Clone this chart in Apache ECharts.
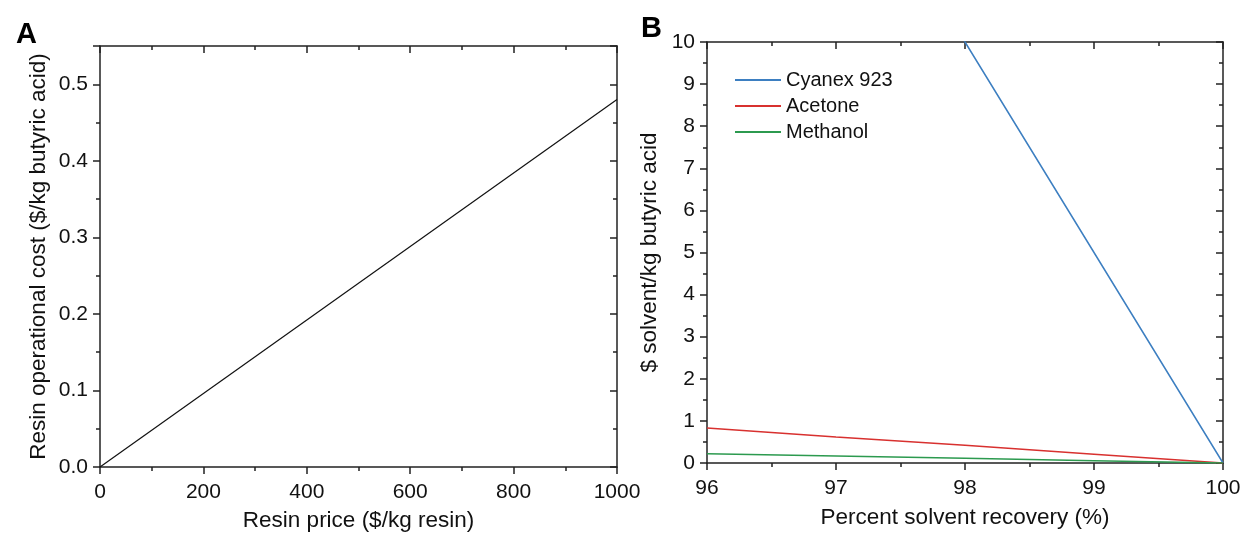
<!DOCTYPE html>
<html><head><meta charset="utf-8">
<script src="https://cdn.jsdelivr.net/npm/echarts@6/dist/echarts.min.js"></script>
<style>html,body{margin:0;padding:0;background:#fff}#c{width:1243px;height:533px}</style>
</head><body><div id="c"></div>
<script>
// Panel A data
const resinPrice = [0, 1000];
const resinCost = [0, 0.48];
// Panel B data
const recovery = [96, 97, 98, 99, 100];
const cyanex = [20, 15, 10, 5, 0];
const acetone = [0.83, 0.62, 0.42, 0.21, 0];
const methanol = [0.22, 0.165, 0.11, 0.055, 0];
const seriesNames = ['Cyanex 923', 'Acetone', 'Methanol'];
const colors = ['#3d7fc1', '#d8312f', '#2c9a4f'];

const FONT = 'Liberation Sans, Arial, sans-serif';
const AX = '#222';
function baseAxis(o) {
  return Object.assign({
    axisLine: {show: true, onZero: false, lineStyle: {color: AX, width: 1.5}},
    axisTick: {show: true, inside: false, length: 7, lineStyle: {color: AX, width: 1.5}},
    minorTick: {show: true, splitNumber: 2, length: 4, lineStyle: {color: AX, width: 1.5}},
    splitLine: {show: false},
    axisLabel: {color: '#111', fontFamily: FONT, fontSize: 21, margin: 15, formatter: v => String(v)},
    nameTextStyle: {color: '#111', fontFamily: FONT, fontSize: 22.5},
    nameLocation: 'middle'
  }, o);
}
function mirror(o) {
  return baseAxis(Object.assign({
    axisTick: {show: true, inside: true, length: 7, lineStyle: {color: AX, width: 1.5}},
    minorTick: {show: true, splitNumber: 2, length: 4, lineStyle: {color: AX, width: 1.5}},
    axisLabel: {show: false}
  }, o));
}
const chart = echarts.init(document.getElementById('c'));
chart.setOption({
  animation: false,
  title: [
    {text: 'A', left: 11, top: 15, textStyle: {fontFamily: FONT, fontWeight: 'bold', fontSize: 29, color: '#000'}},
    {text: 'B', left: 636, top: 9, textStyle: {fontFamily: FONT, fontWeight: 'bold', fontSize: 29, color: '#000'}}
  ],
  grid: [
    {left: 100, right: 626, top: 46, bottom: 66, containLabel: false, outerBoundsMode: 'none'},
    {left: 707, right: 20, top: 42, bottom: 70, containLabel: false, outerBoundsMode: 'none'}
  ],
  legend: {
    data: seriesNames, orient: 'vertical', left: 730, top: 65,
    icon: 'rect', itemWidth: 46, itemHeight: 2, itemGap: 6,
    textStyle: {fontFamily: FONT, fontSize: 20, color: '#111'}
  },
  xAxis: [
    baseAxis({gridIndex: 0, type: 'value', min: 0, max: 1000, interval: 200, name: 'Resin price ($/kg resin)', nameGap: 42}),
    mirror({gridIndex: 0, type: 'value', min: 0, max: 1000, interval: 200, position: 'top'}),
    baseAxis({gridIndex: 1, type: 'value', min: 96, max: 100, interval: 1, name: 'Percent solvent recovery (%)', nameGap: 43}),
    mirror({gridIndex: 1, type: 'value', min: 96, max: 100, interval: 1, position: 'top'})
  ],
  yAxis: [
    baseAxis({gridIndex: 0, type: 'value', min: 0, max: 0.55, interval: 0.1, name: 'Resin operational cost ($/kg butyric acid)', nameGap: 50,
      axisLabel: {color: '#111', fontFamily: FONT, fontSize: 21, margin: 12, showMaxLabel: false, formatter: v => v.toFixed(1)}}),
    mirror({gridIndex: 0, type: 'value', min: 0, max: 0.55, interval: 0.1, position: 'right'}),
    baseAxis({gridIndex: 1, type: 'value', min: 0, max: 10, interval: 1, name: '$ solvent/kg butyric acid', nameGap: 46,
      axisLabel: {color: '#111', fontFamily: FONT, fontSize: 21, margin: 12}}),
    mirror({gridIndex: 1, type: 'value', min: 0, max: 10, interval: 1, position: 'right'})
  ],
  series: [
    {type: 'line', xAxisIndex: 0, yAxisIndex: 0, data: resinPrice.map((x, i) => [x, resinCost[i]]),
      showSymbol: false, symbol: 'none', lineStyle: {color: '#111', width: 1.2}, silent: true},
    {type: 'line', name: seriesNames[0], xAxisIndex: 2, yAxisIndex: 2, data: recovery.map((x, i) => [x, cyanex[i]]),
      symbol: 'none', clip: true, color: colors[0], lineStyle: {color: colors[0], width: 1.5}},
    {type: 'line', name: seriesNames[1], xAxisIndex: 2, yAxisIndex: 2, data: recovery.map((x, i) => [x, acetone[i]]),
      symbol: 'none', clip: true, color: colors[1], lineStyle: {color: colors[1], width: 1.5}},
    {type: 'line', name: seriesNames[2], xAxisIndex: 2, yAxisIndex: 2, data: recovery.map((x, i) => [x, methanol[i]]),
      symbol: 'none', clip: true, color: colors[2], lineStyle: {color: colors[2], width: 1.5}}
  ]
});
</script></body></html>
